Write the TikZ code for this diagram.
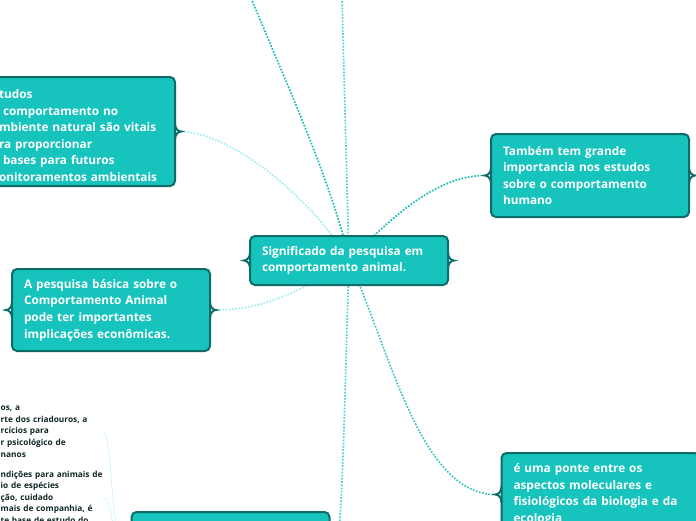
\documentclass[tikz,border=0pt]{standalone}
\usepackage{fontspec}
\setmainfont{Open Sans}
\usetikzlibrary{backgrounds}
\definecolor{topicfill}{HTML}{16C4BD}
\definecolor{topicline}{HTML}{0D6C68}
\definecolor{linkdark}{HTML}{1CBDB6}
\definecolor{linkmid}{HTML}{52D1D1}
\definecolor{linklight}{HTML}{A6ECEF}
\definecolor{subtext}{HTML}{0F2626}
\tikzset{
  topic/.style={draw=topicline, fill=topicfill, line width=2pt, rounded corners=5pt,
    text=white, font=\fontsize{11.8}{16.6}\selectfont\bfseries, align=left,
    text width=174pt, inner xsep=12pt, inner ysep=4pt, outer sep=0pt},
  subtopic/.style={text=subtext, font=\fontsize{8.3}{11.6}\selectfont\bfseries,
    align=left, text width=102pt, inner sep=0pt, anchor=west},
  link/.style={line width=1.7pt, dash pattern=on 1.7pt off 1.5pt},
  sublink/.style={line width=0.7pt, dash pattern=on 0.8pt off 0.8pt, linklight},
  bracetip/.style={draw=topicline, line width=2pt},
}
\newcommand\bracetips[1]{%
  \draw[bracetip] ([yshift=8pt]#1.west) .. controls +(0,-5) and +(3,0) .. ([xshift=-6pt]#1.west)
    .. controls +(3,0) and +(0,5) .. ([yshift=-8pt]#1.west);
  \draw[bracetip] ([yshift=8pt]#1.east) .. controls +(0,-5) and +(-3,0) .. ([xshift=6pt]#1.east)
    .. controls +(-3,0) and +(0,5) .. ([yshift=-8pt]#1.east);
}
\begin{document}
\begin{tikzpicture}[x=1pt,y=1pt]
  \useasboundingbox (0,0) rectangle (696,-520);
  \node[topic,minimum height=49pt] (sig) at (349,-260.5) {Significado da pesquisa em\\comportamento animal.};
  \node[topic,text width=164pt,minimum height=109pt] (estudos) at (81,-131.5)
    {\rule{0pt}{17pt}tudos\\\hspace*{4pt}comportamento no\\mbiente natural são vitais\\ra proporcionar\\\hspace*{4pt}bases para futuros\\onitoramentos ambientais};
  \node[topic,minimum height=83pt] (humano) at (590,-175.5) {Também tem grande\\importancia nos estudos\\sobre o comportamento\\humano};
  \node[topic,minimum height=82pt] (economia) at (111,-310) {A pesquisa básica sobre o\\Comportamento Animal\\pode ter importantes\\implicações econômicas.};
  \node[topic,minimum height=83pt] (ponte) at (600.5,-494.5) {é uma ponte entre os\\aspectos moleculares e\\fisiológicos da biologia e da\\ecologia};
  \node[topic,minimum height=70pt] (base) at (230.5,-547) {};
  \node[subtopic] (bemestar) at (0.5,-431.5) {\strut os, a\\rte dos criadouros, a\\rcícios para\\r psicológico de\\nanos\strut};
  \node[subtopic] (condicoes) at (0.5,-498) {\strut ndições para animais de\\io de espécies\\ção, cuidado\\mais de companhia, é\\te base de estudo do\strut};
  \foreach \n in {sig,estudos,humano,economia,ponte,base}{\bracetips{\n}}
  \coordinate (acima) at (251,2);
  \coordinate (topo) at (342,2);
  \begin{scope}[on background layer]
    \draw[link,linkdark] (acima) .. controls (285,-80) and (335,-190) .. (sig.center);
    \draw[link,linkmid] (topo) -- (sig.center);
    \draw[link,linklight] ([xshift=6pt]estudos.east) .. controls (240,-134) and (320,-210) .. (sig.center);
    \draw[link,linkdark] (sig.center) .. controls (380,-230) and (430,-175.5) .. ([xshift=-6pt]humano.west);
    \draw[link,linklight] ([xshift=6pt]economia.east) .. controls (270,-310) and (310,-285) .. (sig.center);
    \draw[link,linkmid] (sig.center) .. controls (344,-420) and (342,-540) .. ([xshift=6pt]base.east);
    \draw[link,linkdark!85!white] (sig.center) .. controls (390,-350) and (420,-494.5) .. ([xshift=-6pt]ponte.west);
    \draw[sublink] (bemestar.east) .. controls (113,-432) and (110,-547) .. ([xshift=-6pt]base.west);
    \draw[sublink] (condicoes.east) .. controls (114,-497) and (110,-547) .. ([xshift=-6pt]base.west);
  \end{scope}
\end{tikzpicture}
\end{document}
